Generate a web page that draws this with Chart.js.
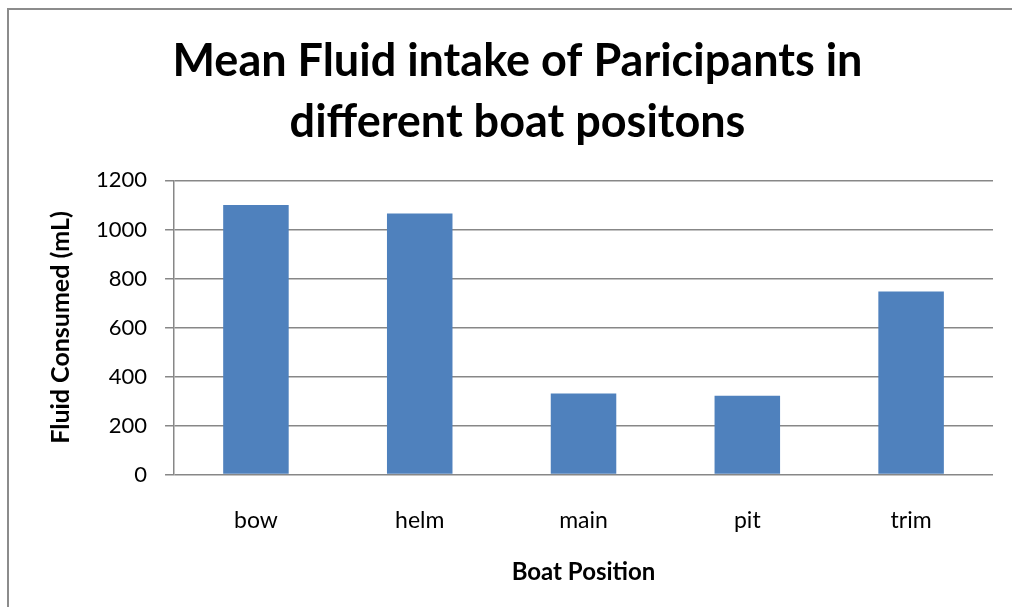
<!DOCTYPE html>
<html>
<head>
<meta charset="utf-8">
<script src="https://cdn.jsdelivr.net/npm/chart.js@4.4.0/dist/chart.umd.min.js"></script>
<style>
  html, body { margin: 0; padding: 0; background: #fff; overflow: hidden; }
  #frame { position: absolute; left: 7px; top: 8px; width: 1100px; height: 700px;
           border-left: 2px solid #8c8c8c; border-top: 2px solid #8c8c8c; }
  #wrap { position: absolute; left: 0; top: 0; width: 1012px; height: 607px; }
</style>
</head>
<body>
<div id="frame"></div>
<div id="wrap"><canvas id="myChart" width="1012" height="607"></canvas></div>
<script>
// boat positions and mean fluid intake (mL)
var positions = ["bow", "helm", "main", "pit", "trim"];
var fluidMean = [1100, 1065, 331, 322, 747];
var yTicks = [0, 200, 400, 600, 800, 1000, 1200];

var FONT = "Lato";

function drawChart() {
    var ctx = document.getElementById("myChart");
    new Chart(ctx, {
        type: "bar",
        data: {
            labels: positions,
            datasets: [{
                data: fluidMean,
                backgroundColor: "#4F81BD",
                borderWidth: 0,
                categoryPercentage: 1,
                barPercentage: 0.4
            }]
        },
        options: {
            responsive: false,
            animation: false,
            layout: { padding: { left: 42, right: 19, top: 31, bottom: 20 } },
            plugins: {
                legend: { display: false },
                tooltip: { enabled: false },
                title: {
                    display: true,
                    text: ["Mean Fluid intake of Paricipants in", "different boat positons"],
                    color: "#000",
                    font: { family: FONT, size: 45, weight: "bold", lineHeight: 1.36 },
                    padding: { top: 0, bottom: 27 }
                }
            },
            scales: {
                x: {
                    grid: { display: false },
                    border: { display: false },
                    ticks: { color: "#000", font: { family: FONT, size: 23 }, padding: 24 },
                    title: {
                        display: true, text: "Boat Position", color: "#000",
                        font: { family: FONT, size: 24, weight: "bold" }, padding: { top: 0, bottom: 0 }
                    }
                },
                y: {
                    min: 0, max: 1200,
                    afterBuildTicks: function (axis) {
                        axis.ticks = yTicks.map(function (v) { return { value: v }; });
                    },
                    grid: { color: "#878787", lineWidth: 1.5, tickLength: 9 },
                    border: { color: "#878787", width: 1.5 },
                    ticks: {
                        color: "#000", font: { family: FONT, size: 22 }, padding: 18,
                        callback: function (v) { return String(v); }
                    },
                    title: {
                        display: true, text: "Fluid Consumed (mL)", color: "#000",
                        font: { family: FONT, size: 25, weight: "bold" }, padding: { top: 4, bottom: 2 }
                    }
                }
            }
        }
    });
}
drawChart();
</script>
</body>
</html>
